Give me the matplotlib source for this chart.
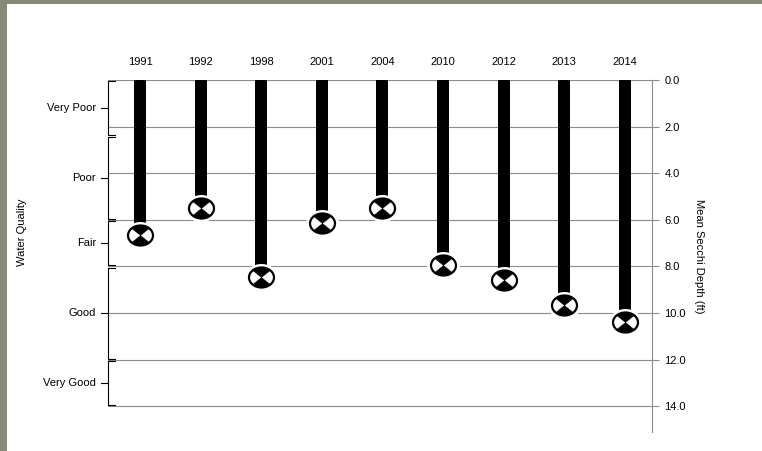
import matplotlib.pyplot as plt
import matplotlib.transforms as mtransforms
from matplotlib.path import Path

years = ['1991', '1992', '1998', '2001', '2004', '2010', '2012', '2013', '2014']
depth = [6.65, 5.5, 8.45, 6.15, 5.5, 7.95, 8.6, 9.65, 10.4]

quality = ['Very Poor', 'Poor', 'Fair', 'Good', 'Very Good']
bounds = [0.0, 2.4, 6.0, 8.0, 12.0, 14.0]
depth_ticks = [0, 2, 4, 6, 8, 10, 12, 14]

plt.rcParams['font.family'] = ['Liberation Sans', 'DejaVu Sans']

fig = plt.figure(figsize=(7.62, 4.51), dpi=100)
fig.patch.set_facecolor('#858a7a')
# white panel inside the grey-green frame
fig.patches.append(plt.Rectangle((7/762, 0), 1, 1 - 4/451, transform=fig.transFigure,
                                 facecolor='white', edgecolor='none', zorder=-10))

ax = fig.add_axes([108/762, 1 - 432/451, 544/762, 352/451])
ax.set_facecolor('none')
x = list(range(len(years)))

for t in depth_ticks:
    ax.axhline(t, color='#8c8c8c', lw=0.8, zorder=1)

ax.bar(x, depth, width=0.2, color='black', zorder=2)

# secchi disk markers: ellipse outline + black top/bottom wedges
def squash(p):
    v = p.vertices.copy()
    v[:, 1] *= 0.8
    return Path(v, p.codes)

circ = squash(Path.unit_circle())
wedges = squash(Path.make_compound_path(Path.wedge(45, 135), Path.wedge(225, 315)))
ms = 18
ax.plot(x, depth, ls='none', marker=circ, ms=ms + 5, mfc='white', mec='white', zorder=3)
ax.plot(x, depth, ls='none', marker=circ, ms=ms, mfc='white', mec='black', mew=1.6, zorder=4)
# wedge path gets normalised by its 0.8 height, so shrink it to match the ellipse
ax.plot(x, depth, ls='none', marker=wedges, ms=ms * 0.8, mfc='black', mec='black',
        mew=0.3, zorder=5)

ax.set_xlim(-0.53, 8.45)
ax.set_ylim(15.1, 0)

for s in ['top', 'bottom', 'left']:
    ax.spines[s].set_visible(False)
ax.spines['right'].set_color('#8c8c8c')
ax.set_xticks([])
ax.yaxis.tick_right()
ax.set_yticks(depth_ticks)
ax.set_yticklabels([f'{t:.1f}' for t in depth_ticks])
ax.tick_params(axis='y', colors='#8c8c8c', labelcolor='black', labelsize=8, length=5, pad=4)
ax.yaxis.set_label_position('right')
ax.set_ylabel('Mean Secchi Depth (ft)', rotation=-90, fontsize=8, labelpad=13)

for xi, yr in zip(x, years):
    ax.text(xi, -0.55, yr, ha='center', va='bottom', fontsize=8)

# left water quality brackets
tr = mtransforms.blended_transform_factory(ax.transAxes, ax.transData)
for i, q in enumerate(quality):
    top, bot = bounds[i] + 0.05, bounds[i + 1] - 0.05
    mid = (bounds[i] + bounds[i + 1]) / 2
    ax.plot([0.012, 0.0, 0.0, 0.012], [top, top, bot, bot], color='black',
            lw=0.8, transform=tr, clip_on=False)
    ax.plot([-0.012, 0.0], [mid, mid], color='black', lw=0.8, transform=tr, clip_on=False)
    ax.text(-0.022, mid, q, ha='right', va='center', fontsize=8, transform=tr)

fig.text(22/762, 1 - 232/451, 'Water Quality', rotation=90, ha='center', va='center', fontsize=8)

fig.savefig('out.png', dpi=100)
